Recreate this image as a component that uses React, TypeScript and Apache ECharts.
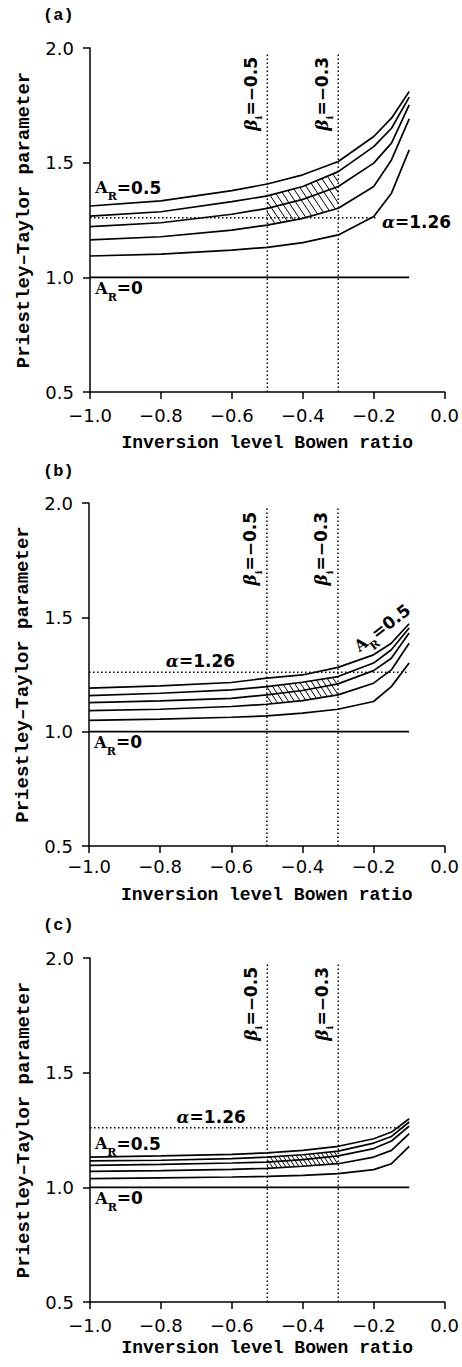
import React, { useEffect, useRef } from "react";
import * as echarts from "echarts";

// Inversion level Bowen ratio (x) sample points
const bowen = [-1.0, -0.8, -0.6, -0.5, -0.4, -0.3, -0.2, -0.15, -0.1];

// Panel (a) curves, top (A_R = 0.5) to bottom
const a1 = [1.311, 1.333, 1.378, 1.407, 1.447, 1.505, 1.614, 1.694, 1.81];
const a2 = [1.267, 1.286, 1.33, 1.355, 1.396, 1.461, 1.57, 1.65, 1.786];
const a3 = [1.221, 1.238, 1.275, 1.301, 1.34, 1.396, 1.498, 1.585, 1.752];
const a4 = [1.163, 1.177, 1.206, 1.228, 1.257, 1.301, 1.396, 1.512, 1.691];
const a5 = [1.093, 1.101, 1.119, 1.131, 1.151, 1.185, 1.265, 1.367, 1.556];

// Panel (b) curves
const b1 = [1.19, 1.2, 1.215, 1.234, 1.248, 1.281, 1.336, 1.387, 1.472];
const b2 = [1.158, 1.168, 1.183, 1.197, 1.216, 1.241, 1.3, 1.358, 1.453];
const b3 = [1.127, 1.135, 1.146, 1.161, 1.18, 1.209, 1.267, 1.321, 1.431];
const b4 = [1.092, 1.098, 1.11, 1.12, 1.136, 1.161, 1.212, 1.27, 1.387];
const b5 = [1.049, 1.055, 1.063, 1.069, 1.081, 1.098, 1.132, 1.197, 1.3];

// Panel (c) curves
const c1 = [1.132, 1.137, 1.144, 1.15, 1.161, 1.179, 1.212, 1.241, 1.299];
const c2 = [1.115, 1.118, 1.125, 1.132, 1.142, 1.158, 1.193, 1.222, 1.285];
const c3 = [1.096, 1.1, 1.106, 1.11, 1.121, 1.137, 1.169, 1.202, 1.267];
const c4 = [1.07, 1.073, 1.078, 1.083, 1.092, 1.103, 1.132, 1.161, 1.234];
const c5 = [1.038, 1.041, 1.045, 1.048, 1.052, 1.06, 1.077, 1.103, 1.179];

const panelCurves = [
  [a1, a2, a3, a4, a5],
  [b1, b2, b3, b4, b5],
  [c1, c2, c3, c4, c5],
];
const panelNames = ["(a)", "(b)", "(c)"];

// A_R = 0 reference line
const zeroLineX = [-1.0, -0.1];
const zeroLineY = 1.0;
// alpha = 1.26 reference line
const alphaValue = 1.26;
const alphaStartX = -1.0;
const alphaEndX = [-0.19, -0.1, -0.1];
// beta_i lines
const betaValues = [-0.5, -0.3];
const betaLabels = ["=\u22120.5", "=\u22120.3"];
const betaTop = 1.98;
// hatched band indexes (between curve 2 and curve 4, for beta_i in [-0.5,-0.3])
const hatchIdx = [3, 4, 5];

const xTitle = "Inversion level Bowen ratio";
const yTitle = "Priestley\u2013Taylor parameter";

// layout (pixels)
const grids = [
  { left: 90, top: 48, width: 356, height: 344 },
  { left: 89, top: 503, width: 357, height: 343 },
  { left: 90, top: 958, width: 357, height: 344 },
];
const xNameGap = [42, 40, 37];
const xLabelMargin = [14, 11, 14];
const panelLabelTop = [15, 471, 925];

// annotation anchors (data coords)
const arHighPos = [
  { x: -0.985, y: 1.39, rot: 0 },
  { x: -0.176, y: 1.453, rot: 0.66 },
  { x: -0.986, y: 1.189, rot: 0 },
];
const arZeroPos = { x: -0.985, y: 0.953 };
const alphaPos = [
  { x: -0.177, y: 1.241 },
  { x: -0.784, y: 1.309 },
  { x: -0.756, y: 1.307 },
];
const betaLabelY = 1.8;
const betaLabelDx = -0.047;

const hatchGap = [7, 6, 4.5];
const hatchSlope = 1.5;

const FONT_NUM = "DejaVu Sans";
const FONT_SERIF = "DejaVu Serif";
const FONT_TYPE = "Liberation Mono";

function makeHatch(upper: number[], lower: number[], gap: number) {
  return (params: any, api: any) => {
    const top = hatchIdx.map((i) => api.coord([bowen[i], upper[i]]));
    const bot = hatchIdx.map((i) => api.coord([bowen[i], lower[i]]));
    const interp = (pts: number[][], x: number) => {
      for (let k = 0; k < pts.length - 1; k++) {
        const [xa, ya] = pts[k];
        const [xb, yb] = pts[k + 1];
        if (x >= xa - 1e-6 && x <= xb + 1e-6) {
          const t = xb === xa ? 0 : (x - xa) / (xb - xa);
          return ya + t * (yb - ya);
        }
      }
      return pts[pts.length - 1][1];
    };
    const x0 = top[0][0];
    const x1 = top[top.length - 1][0];
    const ys = [...top, ...bot].map((p) => p[1]);
    const ymin = Math.min(...ys);
    const ymax = Math.max(...ys);
    const step = gap * hatchSlope;
    const children: any[] = [];
    for (let c = ymin - hatchSlope * (x1 - x0) - step; c <= ymax + step; c += step) {
      let first: number[] | null = null;
      let last: number[] | null = null;
      for (let x = x0; x <= x1 + 0.01; x += 0.2) {
        const y = c + hatchSlope * (x - x0);
        const yt = interp(top, x);
        const yb = interp(bot, x);
        if (y >= yt && y <= yb) {
          if (!first) first = [x, y];
          last = [x, y];
        }
      }
      if (first && last && Math.hypot(last[0] - first[0], last[1] - first[1]) > 1) {
        children.push({
          type: "line",
          shape: { x1: first[0], y1: first[1], x2: last[0], y2: last[1] },
          style: { stroke: "#000", lineWidth: 1 },
        });
      }
    }
    return { type: "group", children };
  };
}

const fmtX = (v: number) => {
  const r = Math.round(v * 10) / 10;
  return (r < 0 ? "\u2212" : "") + Math.abs(r).toFixed(1);
};

function buildOption() {
  const xAxis: any[] = [];
  const yAxis: any[] = [];
  const series: any[] = [];
  grids.forEach((g, p) => {
    xAxis.push({
      type: "value",
      gridIndex: p,
      min: -1.0,
      max: 0.0,
      interval: 0.2,
      name: xTitle,
      nameLocation: "middle",
      nameGap: xNameGap[p],
      nameTextStyle: { fontFamily: FONT_TYPE, fontWeight: "bold", fontSize: 18, color: "#000" },
      axisLine: { onZero: false, lineStyle: { color: "#000", width: 1.5 } },
      axisTick: { inside: false, length: 7, lineStyle: { color: "#000", width: 1.5 } },
      axisLabel: {
        margin: xLabelMargin[p],
        formatter: fmtX,
        fontFamily: FONT_NUM,
        fontSize: 18,
        color: "#000",
      },
      splitLine: { show: false },
    });
    yAxis.push({
      type: "value",
      gridIndex: p,
      min: 0.5,
      max: 2.0,
      interval: 0.5,
      name: yTitle,
      nameLocation: "middle",
      nameGap: 57,
      nameTextStyle: { fontFamily: FONT_TYPE, fontWeight: "bold", fontSize: 19, color: "#000" },
      axisLine: { show: true, onZero: false, lineStyle: { color: "#000", width: 1.5 } },
      axisTick: { show: true, inside: false, length: 7, lineStyle: { color: "#000", width: 1.5 } },
      axisLabel: {
        margin: 16,
        formatter: (v: number) => v.toFixed(1),
        fontFamily: FONT_NUM,
        fontSize: 18,
        color: "#000",
      },
      splitLine: { show: false },
    });

    const curves = panelCurves[p];
    // hatch band between curve 2 and curve 4
    series.push({
      type: "custom",
      xAxisIndex: p,
      yAxisIndex: p,
      z: 1,
      silent: true,
      clip: false,
      data: [[-0.4, 1.2]],
      renderItem: makeHatch(curves[1], curves[3], hatchGap[p]),
    });
    curves.forEach((c) => {
      series.push({
        type: "line",
        xAxisIndex: p,
        yAxisIndex: p,
        z: 3,
        silent: true,
        symbol: "none",
        data: bowen.map((x, i) => [x, c[i]]),
        lineStyle: { color: "#000", width: 1.7 },
      });
    });
    // A_R = 0 line
    series.push({
      type: "line",
      xAxisIndex: p,
      yAxisIndex: p,
      z: 3,
      silent: true,
      symbol: "none",
      data: zeroLineX.map((x) => [x, zeroLineY]),
      lineStyle: { color: "#000", width: 1.7 },
    });
    // alpha line
    series.push({
      type: "line",
      xAxisIndex: p,
      yAxisIndex: p,
      z: 2,
      silent: true,
      symbol: "none",
      data: [
        [alphaStartX, alphaValue],
        [alphaEndX[p], alphaValue],
      ],
      lineStyle: { color: "#000", width: 1.5, type: [1.5, 2.5] },
    });
    // beta lines
    betaValues.forEach((b) => {
      series.push({
        type: "line",
        xAxisIndex: p,
        yAxisIndex: p,
        z: 2,
        silent: true,
        symbol: "none",
        data: [
          [b, 0.5],
          [b, betaTop],
        ],
        lineStyle: { color: "#000", width: 1.5, type: [1.5, 2.5] },
      });
    });
  });

  return {
    animation: false,
    backgroundColor: "#fff",
    grid: grids,
    xAxis,
    yAxis,
    series,
  };
}

const arRich = (fs: number) => ({
  A: { fontFamily: FONT_SERIF, fontWeight: "bold", fontSize: 16, fill: "#000" },
  R: { fontFamily: FONT_SERIF, fontWeight: "bold", fontSize: 11, fill: "#000", padding: [18, 0, 0, 0] },
  n: { fontFamily: FONT_NUM, fontWeight: "bold", fontSize: fs, fill: "#000" },
});

function buildGraphic(chart: any) {
  const els: any[] = [];
  const px = (g: number, x: number, y: number) => chart.convertToPixel({ gridIndex: g }, [x, y]);
  grids.forEach((g, p) => {
    els.push({
      type: "text",
      x: 43,
      y: panelLabelTop[p],
      silent: true,
      style: {
        text: panelNames[p],
        fontFamily: FONT_TYPE,
        fontWeight: "bold",
        fontSize: 17,
        fill: "#000",
        align: "left",
        verticalAlign: "middle",
      },
    });
    // A_R = 0.5
    const hp = arHighPos[p];
    const [hx, hy] = px(p, hp.x, hp.y);
    els.push({
      type: "text",
      x: hx,
      y: hy,
      rotation: hp.rot,
      silent: true,
      style: {
        text: "{A|A}{R|R}{n|=0.5}",
        rich: arRich(17),
        align: hp.rot ? "center" : "left",
        verticalAlign: "middle",
      },
    });
    // A_R = 0
    const [zx, zy] = px(p, arZeroPos.x, arZeroPos.y);
    els.push({
      type: "text",
      x: zx,
      y: zy,
      silent: true,
      style: {
        text: "{A|A}{R|R}{n|=0}",
        rich: arRich(17),
        align: "left",
        verticalAlign: "middle",
      },
    });
    // alpha = 1.26
    const [ax, ay] = px(p, alphaPos[p].x, alphaPos[p].y);
    els.push({
      type: "text",
      x: ax,
      y: ay,
      silent: true,
      style: {
        text: "{a|\u03b1}{n|=1.26}",
        rich: {
          a: { fontFamily: FONT_SERIF, fontStyle: "italic", fontWeight: "bold", fontSize: 17, fill: "#000" },
          n: { fontFamily: FONT_NUM, fontWeight: "bold", fontSize: 17, fill: "#000" },
        },
        align: "left",
        verticalAlign: "middle",
      },
    });
    // beta_i labels
    betaValues.forEach((b, k) => {
      const [bx, by] = px(p, b + betaLabelDx, betaLabelY);
      els.push({
        type: "text",
        x: bx,
        y: by,
        rotation: Math.PI / 2,
        silent: true,
        style: {
          text: "{b|\u03b2}{s|i}{n|" + betaLabels[k] + "}",
          rich: {
            b: { fontFamily: FONT_SERIF, fontStyle: "italic", fontWeight: "bold", fontSize: 17, fill: "#000" },
            s: { fontFamily: FONT_SERIF, fontWeight: "bold", fontSize: 10, fill: "#000", padding: [16, 0, 0, 0] },
            n: { fontFamily: FONT_NUM, fontWeight: "bold", fontSize: 17, fill: "#000" },
          },
          align: "center",
          verticalAlign: "middle",
        },
      });
    });
  });
  return els;
}

export default function App() {
  const ref = useRef<HTMLDivElement>(null);
  useEffect(() => {
    if (!ref.current) return;
    const chart = echarts.init(ref.current, null, { renderer: "svg" });
    chart.setOption(buildOption() as any);
    chart.setOption({ graphic: buildGraphic(chart) } as any);
    return () => chart.dispose();
  }, []);
  return (
    <div
      ref={ref}
      style={{ position: "absolute", left: 0, top: 0, width: 462, height: 1367, background: "#fff" }}
    />
  );
}
